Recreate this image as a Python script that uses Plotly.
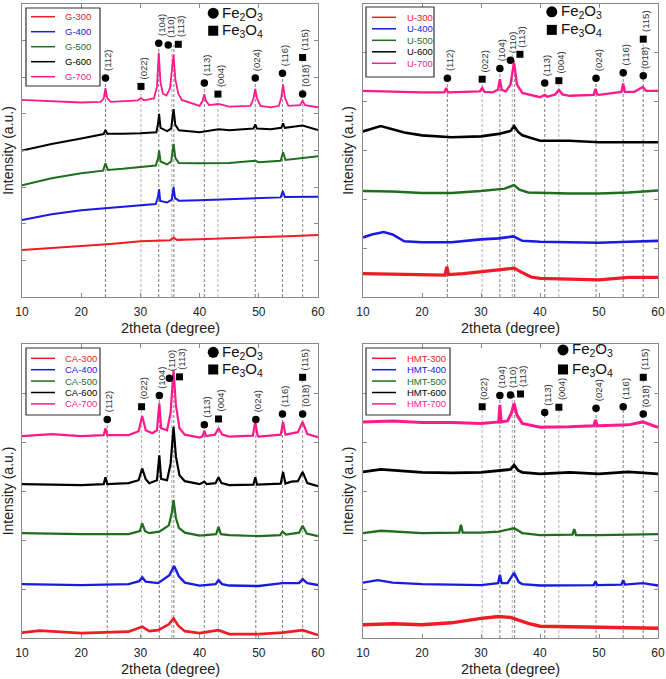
import plotly.graph_objects as go

# ---------------- data (2theta in degree, intensity in a.u. offset units) ----------------
G300 = [(10,1.28),(15,1.33),(20,1.38),(25,1.45),(30,1.52),(35,1.55),(35.6,1.62),(36.2,1.56),(40,1.58),(45,1.60),(50,1.63),(55,1.66),(60,1.69)]
G400 = [(10,2.10),(15,2.26),(20,2.37),(25,2.44),(30,2.50),(32.6,2.54),(33.0,2.75),(33.15,2.94),(33.35,2.62),(34.5,2.58),(35.3,2.66),(35.6,3.00),(35.85,2.70),(36.5,2.63),(40,2.64),(45,2.67),(50,2.69),(53.7,2.72),(54.05,2.89),(54.4,2.73),(60,2.74)]
G500 = [(10,3.05),(15,3.24),(20,3.38),(23.7,3.45),(24.1,3.65),(24.5,3.47),(27,3.50),(30,3.55),(32.6,3.59),(33.0,3.80),(33.15,4.00),(33.4,3.70),(34.5,3.62),(35.2,3.70),(35.6,4.18),(35.9,3.80),(36.5,3.66),(40,3.65),(45,3.66),(49.4,3.72),(50,3.68),(53.7,3.72),(54.1,3.95),(54.5,3.74),(57.4,3.80),(60,3.84)]
G600 = [(10,4.00),(15,4.18),(20,4.33),(23.8,4.45),(24.1,4.56),(24.4,4.46),(27,4.46),(30,4.47),(32.7,4.50),(33.0,4.75),(33.15,5.00),(33.4,4.62),(34.5,4.53),(35.2,4.60),(35.6,5.13),(35.9,4.70),(36.5,4.55),(40,4.50),(43.2,4.58),(45,4.55),(49.1,4.60),(49.4,4.71),(49.7,4.60),(52,4.58),(53.8,4.62),(54.1,4.74),(54.4,4.62),(57.4,4.68),(60,4.56)]
G700 = [(10,5.38),(15,5.34),(20,5.31),(23.3,5.33),(23.8,5.42),(24.1,5.70),(24.4,5.43),(25,5.33),(29.6,5.37),(30.1,5.43),(30.6,5.37),(32.3,5.42),(32.8,5.75),(33.1,6.67),(33.4,5.85),(33.8,5.55),(34.4,5.50),(35.0,5.70),(35.3,6.20),(35.6,6.61),(35.9,5.95),(36.4,5.55),(37,5.38),(40,5.22),(40.5,5.35),(40.8,5.54),(41.1,5.35),(41.6,5.24),(43.2,5.27),(45,5.20),(48.6,5.22),(49.1,5.42),(49.4,5.68),(49.7,5.42),(50.3,5.22),(52,5.18),(53.4,5.22),(53.8,5.45),(54.1,5.80),(54.4,5.45),(55,5.22),(57.0,5.24),(57.4,5.36),(57.8,5.24),(60,5.18)]

U300 = [(10,0.48),(15,0.47),(20,0.45),(23.9,0.45),(24.2,0.62),(24.5,0.46),(27,0.48),(30,0.52),(33,0.55),(35.6,0.59),(37,0.50),(38.5,0.41),(40,0.38),(45,0.37),(50,0.35),(55,0.40),(60,0.40)]
U400 = [(10,1.22),(11.5,1.28),(13.5,1.33),(15,1.28),(17,1.14),(20,1.12),(25,1.12),(30,1.18),(33,1.20),(35.5,1.24),(37,1.15),(40,1.13),(45,1.12),(50,1.11),(55,1.13),(60,1.15)]
U500 = [(10,2.17),(15,2.16),(20,2.13),(25,2.13),(30,2.17),(34,2.22),(35.6,2.29),(36.5,2.20),(38,2.14),(40,2.13),(45,2.12),(50,2.12),(55,2.14),(60,2.18)]
U600 = [(10,3.39),(13,3.50),(17,3.37),(20,3.31),(25,3.27),(30,3.29),(33,3.34),(35.0,3.40),(35.6,3.50),(36.3,3.38),(37,3.31),(40,3.20),(45,3.20),(50,3.17),(55,3.17),(60,3.17)]
U700 = [(10,4.22),(15,4.20),(20,4.19),(23.8,4.19),(24.1,4.28),(24.4,4.19),(29.8,4.21),(30.2,4.28),(30.6,4.20),(32,4.19),(32.9,4.25),(33.2,4.46),(33.5,4.24),(34.2,4.21),(35.0,4.35),(35.6,4.80),(36.1,4.35),(37,4.18),(40,4.09),(40.8,4.14),(41.2,4.10),(42.6,4.15),(43.2,4.24),(43.8,4.15),(45,4.12),(49.1,4.14),(49.4,4.26),(49.7,4.15),(50,4.14),(53.8,4.20),(54.1,4.37),(54.4,4.20),(56,4.20),(57.4,4.30),(58,4.22),(60,4.22)]

CA300 = [(10,0.11),(13,0.15),(20,0.10),(28,0.13),(30.3,0.23),(31.5,0.14),(33,0.16),(34.8,0.28),(35.6,0.40),(36.4,0.25),(37.5,0.14),(40,0.10),(43.2,0.16),(45,0.08),(50,0.08),(54,0.11),(57.4,0.16),(60,0.06)]
CA400 = [(10,1.10),(20,1.08),(28,1.10),(29.8,1.16),(30.3,1.24),(30.9,1.15),(33,1.12),(34.9,1.28),(35.7,1.47),(36.5,1.26),(37.5,1.13),(40,1.07),(42.7,1.10),(43.2,1.18),(43.8,1.10),(45,1.07),(50,1.06),(54,1.12),(56.8,1.12),(57.4,1.20),(58.2,1.12),(60,1.08)]
CA500 = [(10,2.14),(20,2.12),(28,2.12),(29.9,2.18),(30.3,2.34),(30.8,2.18),(31.5,2.14),(33.2,2.17),(34.8,2.30),(35.3,2.55),(35.6,2.82),(36.0,2.45),(36.5,2.25),(37.5,2.15),(40,2.09),(42.8,2.12),(43.2,2.27),(43.6,2.12),(45,2.10),(50,2.08),(53.6,2.10),(54,2.17),(54.6,2.11),(56.8,2.15),(57.4,2.29),(58.1,2.13),(60,2.08)]
CA600 = [(10,3.14),(20,3.12),(23.8,3.14),(24.1,3.28),(24.4,3.14),(28,3.16),(29.7,3.22),(30.3,3.46),(30.9,3.24),(31.5,3.16),(32.8,3.22),(33.2,3.73),(33.5,3.25),(34.5,3.22),(35.1,3.55),(35.6,4.31),(36.0,3.70),(36.6,3.32),(37.5,3.20),(40,3.14),(40.8,3.19),(41.2,3.14),(42.7,3.16),(43.2,3.28),(43.7,3.16),(45,3.12),(49.1,3.13),(49.4,3.28),(49.7,3.13),(53.7,3.15),(54.1,3.39),(54.5,3.15),(55.5,3.19),(56.6,3.20),(57.4,3.39),(58.2,3.16),(60,3.10)]
CA700 = [(10,4.12),(15,4.16),(20,4.12),(23.8,4.14),(24.1,4.28),(24.4,4.14),(28,4.14),(29.7,4.22),(30.3,4.53),(30.9,4.24),(32,4.18),(32.8,4.24),(33.2,4.79),(33.5,4.28),(34.5,4.24),(35.1,4.60),(35.6,5.47),(36.0,4.75),(36.6,4.28),(37.5,4.15),(40,4.09),(40.5,4.12),(40.8,4.23),(41.1,4.12),(42.6,4.15),(43.2,4.28),(43.8,4.15),(45,4.11),(49.0,4.13),(49.4,4.41),(49.8,4.13),(50,4.11),(53.7,4.15),(54.1,4.41),(54.5,4.15),(56.6,4.20),(57.4,4.41),(58.2,4.16),(60,4.10)]

HMT300 = [(10,0.27),(15,0.29),(20,0.27),(25,0.31),(30,0.40),(33,0.44),(35,0.42),(36.5,0.36),(38,0.30),(40,0.24),(45,0.23),(50,0.23),(55,0.22),(60,0.20)]
HMT400 = [(10,1.13),(12.5,1.18),(15,1.13),(20,1.10),(30,1.08),(32.9,1.12),(33.2,1.29),(33.5,1.12),(34.5,1.12),(35.6,1.33),(36.4,1.14),(37,1.10),(40,1.07),(45,1.07),(49.1,1.08),(49.4,1.15),(49.7,1.08),(53.8,1.09),(54.1,1.18),(54.4,1.09),(57.4,1.12),(60,1.07)]
HMT500 = [(10,2.14),(13,2.19),(20,2.14),(26.3,2.15),(26.6,2.31),(26.9,2.15),(30,2.15),(33,2.17),(35.6,2.24),(37,2.14),(40,2.10),(45.5,2.11),(45.8,2.22),(46.1,2.10),(50,2.10),(55,2.11),(60,2.12)]
HMT600 = [(10,3.39),(13,3.44),(20,3.38),(25,3.37),(30,3.38),(33,3.41),(35.0,3.44),(35.6,3.53),(36.3,3.42),(37,3.38),(40,3.35),(45,3.38),(50,3.35),(55,3.39),(60,3.35)]
HMT700 = [(10,4.41),(15,4.43),(20,4.40),(25,4.40),(30,4.38),(33.0,4.41),(33.2,4.76),(33.4,4.41),(34.5,4.43),(35.2,4.60),(35.6,4.79),(36.1,4.55),(37,4.38),(40,4.30),(45,4.31),(49.1,4.33),(49.4,4.45),(49.7,4.33),(50,4.33),(55,4.35),(57.4,4.41),(60,4.30)]

TEMPERATURES = ["300", "400", "500", "600", "700"]
X_TICKS = [10, 20, 30, 40, 50, 60]

# peak reference: (hkl, phase, line position, marker position, marker height)
G_PEAKS = [("(112)","Fe2O3",24.1,24.1,5.98),("(022)","Fe3O4",30.1,30.1,5.75),("(104)","Fe2O3",33.1,33.1,6.93),
           ("(110)","Fe2O3",35.65,34.7,6.88),("(113)","Fe3O4",35.3,36.4,6.90),("(113)","Fe2O3",40.8,40.8,5.84),
           ("(004)","Fe3O4",43.1,43.1,5.54),("(024)","Fe2O3",49.4,49.4,5.98),("(116)","Fe2O3",54.0,54.0,6.11),
           ("(018)","Fe2O3",57.4,57.4,5.54),("(115)","Fe3O4",57.4,57.4,6.54)]
U_PEAKS = [("(112)","Fe2O3",24.3,24.3,4.48),("(022)","Fe3O4",30.2,30.2,4.46),("(104)","Fe2O3",33.2,33.2,4.68),
           ("(110)","Fe2O3",35.7,35.0,4.85),("(113)","Fe3O4",35.3,36.6,4.97),("(113)","Fe2O3",40.8,40.8,4.38),
           ("(004)","Fe3O4",43.2,43.2,4.43),("(024)","Fe2O3",49.5,49.5,4.48),("(116)","Fe2O3",54.1,54.1,4.59),
           ("(018)","Fe2O3",57.5,57.5,4.53),("(115)","Fe3O4",57.5,57.5,5.28)]
CA_PEAKS = [("(112)","Fe2O3",24.4,24.4,4.46),("(022)","Fe3O4",30.2,30.2,4.72),("(104)","Fe2O3",33.2,33.2,4.95),
            ("(110)","Fe2O3",35.65,34.9,5.30),("(113)","Fe3O4",35.3,36.6,5.33),("(113)","Fe2O3",40.8,40.8,4.35),
            ("(004)","Fe3O4",43.2,43.2,4.47),("(024)","Fe2O3",49.5,49.5,4.46),("(116)","Fe2O3",54.0,54.0,4.57),
            ("(018)","Fe2O3",57.4,57.4,4.57),("(115)","Fe3O4",57.4,57.4,5.32)]
HMT_PEAKS = [("(022)","Fe3O4",30.2,30.2,4.72),("(104)","Fe2O3",33.2,33.2,4.95),
             ("(110)","Fe2O3",35.7,35.0,4.96),("(113)","Fe3O4",35.3,36.7,4.98),("(113)","Fe2O3",40.8,40.8,4.60),
             ("(004)","Fe3O4",43.2,43.2,4.71),("(024)","Fe2O3",49.5,49.5,4.69),("(116)","Fe2O3",54.1,54.1,4.72),
             ("(018)","Fe2O3",57.5,57.5,4.57),("(115)","Fe3O4",57.5,57.5,5.32)]

# ---------------- layout / style ----------------
W, H = 666, 679
COLORS = ["#ee1c24", "#1a1ae0", "#1e6e1e", "#000000", "#ff1a8c"]
FONT = "Liberation Sans, Arial, sans-serif"
AXC = "#8a8a8a"

panels = [
    dict(prefix="G", series=[G300, G400, G500, G600, G700], ymax=8, peaks=G_PEAKS,
         widths=[2.0, 2.0, 2.0, 2.0, 1.8],
         px=(22, 318), py=(4, 297), key=(42.3, 7.75, 7.27),
         leg=dict(left=26, top=8, w=74, h=78, first=8.7, step=15, l0=5, l1=29, tx=37)),
    dict(prefix="U", series=[U300, U400, U500, U600, U700], ymax=6, peaks=U_PEAKS,
         widths=[3.2, 2.6, 2.4, 2.6, 2.4],
         px=(363, 658), py=(4, 297), key=(42.0, 5.84, 5.47),
         leg=dict(left=366, top=7, w=68, h=70, first=10.3, step=11.5, l0=6, l1=30, tx=39)),
    dict(prefix="CA", series=[CA300, CA400, CA500, CA600, CA700], ymax=6, peaks=CA_PEAKS,
         widths=[2.6, 2.4, 2.2, 2.2, 2.2],
         px=(22, 318), py=(344, 638), key=(42.3, 5.83, 5.48),
         leg=dict(left=26, top=348, w=74, h=67, first=10.3, step=11.4, l0=5, l1=29, tx=37)),
    dict(prefix="HMT", series=[HMT300, HMT400, HMT500, HMT600, HMT700], ymax=6, peaks=HMT_PEAKS,
         widths=[3.4, 2.4, 2.4, 2.8, 3.0],
         px=(363, 658), py=(344, 638), key=(43.9, 5.88, 5.48),
         leg=dict(left=366, top=348, w=84, h=67, first=10.3, step=11.4, l0=6, l1=30, tx=39)),
]

fig = go.Figure()
annotations = []
shapes = []
layout = dict(width=W, height=H, margin=dict(l=0, r=0, t=0, b=0), paper_bgcolor="white",
              plot_bgcolor="white", font=dict(family=FONT, color="#222"), showlegend=False)

for i, p in enumerate(panels):
    n = "" if i == 0 else str(i + 1)
    xa, ya = "x" + n, "y" + n
    # dashed reference lines
    for hkl, phase, lx, mx, my in p["peaks"]:
        col = "#6e6e6e" if phase == "Fe2O3" else "#a8a8a8"
        fig.add_trace(go.Scatter(x=[lx, lx], y=[0, my], mode="lines", xaxis=xa, yaxis=ya,
                                 line=dict(color=col, width=0.9, dash="3px,2px"),
                                 hoverinfo="skip"))
    # patterns
    for s, (ser, t) in enumerate(zip(p["series"], TEMPERATURES)):
        fig.add_trace(go.Scatter(x=[a for a, b in ser], y=[b for a, b in ser], mode="lines",
                                 xaxis=xa, yaxis=ya, name=f'{p["prefix"]}-{t}',
                                 line=dict(color=COLORS[s], width=p["widths"][s])))
    # phase markers + hkl labels
    for phase, sym in (("Fe2O3", "circle"), ("Fe3O4", "square")):
        pk = [q for q in p["peaks"] if q[1] == phase]
        fig.add_trace(go.Scatter(x=[q[3] for q in pk], y=[q[4] for q in pk], mode="markers",
                                 xaxis=xa, yaxis=ya, hoverinfo="skip",
                                 marker=dict(symbol=sym, color="black",
                                             size=7.5 if sym == "circle" else 7)))
    for hkl, phase, lx, mx, my in p["peaks"]:
        annotations.append(dict(x=mx, y=my, xref=xa, yref=ya, text=hkl, textangle=-90,
                                showarrow=False, xanchor="center", yanchor="bottom",
                                xshift=2, yshift=5, font=dict(size=9.5, color="#333")))
    # phase key
    kx, ky1, ky2 = p["key"]
    fig.add_trace(go.Scatter(x=[kx], y=[ky1], mode="markers", xaxis=xa, yaxis=ya,
                             marker=dict(symbol="circle", color="black", size=11), hoverinfo="skip"))
    fig.add_trace(go.Scatter(x=[kx], y=[ky2], mode="markers", xaxis=xa, yaxis=ya,
                             marker=dict(symbol="square", color="black", size=10), hoverinfo="skip"))
    for ky, txt in ((ky1, "Fe<sub>2</sub>O<sub>3</sub>"), (ky2, "Fe<sub>3</sub>O<sub>4</sub>")):
        annotations.append(dict(x=kx, y=ky, xref=xa, yref=ya, text=txt,
                                showarrow=False, xanchor="left", yanchor="middle", xshift=7,
                                font=dict(size=15, color="#111")))

    # legend box (series names in their colours)
    lg = p["leg"]
    shapes.append(dict(type="rect", xref="paper", yref="paper",
                       x0=lg["left"] / W, x1=(lg["left"] + lg["w"]) / W,
                       y0=1 - (lg["top"] + lg["h"]) / H, y1=1 - lg["top"] / H,
                       line=dict(color="#333", width=1.2), fillcolor="white", layer="above"))
    for s, t in enumerate(TEMPERATURES):
        ey = 1 - (lg["top"] + lg["first"] + s * lg["step"]) / H
        shapes.append(dict(type="line", xref="paper", yref="paper",
                           x0=(lg["left"] + lg["l0"]) / W, x1=(lg["left"] + lg["l1"]) / W,
                           y0=ey, y1=ey, line=dict(color=COLORS[s], width=1.5), layer="above"))
        annotations.append(dict(x=(lg["left"] + lg["tx"]) / W, y=ey, xref="paper", yref="paper",
                                text=f'{p["prefix"]}-{t}', showarrow=False, xanchor="left",
                                yanchor="middle", font=dict(size=9.5, color=COLORS[s])))

    x0, x1 = p["px"]
    y0, y1 = p["py"]
    # x-axis title below the tick labels
    annotations.append(dict(x=(x0 + x1) / 2 / W, y=1 - (y1 + 31) / H, xref="paper", yref="paper",
                            text="2theta (degree)", showarrow=False, xanchor="center",
                            yanchor="middle", font=dict(size=14.5, color="#222")))
    layout["xaxis" + n] = dict(domain=[x0 / W, x1 / W], anchor=ya, range=[10, 60],
                               tickvals=X_TICKS, ticktext=[str(v) for v in X_TICKS],
                               ticks="inside", ticklen=4, tickcolor=AXC, showline=True,
                               linecolor=AXC, linewidth=1, mirror="ticks", showgrid=False,
                               zeroline=False, tickfont=dict(size=12, color="#222"),
                               ticklabelstandoff=4, automargin=False)
    layout["yaxis" + n] = dict(domain=[1 - y1 / H, 1 - y0 / H], anchor=xa, range=[0, p["ymax"]],
                               dtick=1, ticks="inside", ticklen=4, tickcolor=AXC, showline=True,
                               linecolor=AXC, linewidth=1, mirror="ticks", showgrid=False,
                               zeroline=False, showticklabels=False,
                               title=dict(text="Intensity (a.u.)", font=dict(size=14, color="#222"),
                                          standoff=5), automargin=False)

layout["annotations"] = annotations
layout["shapes"] = shapes
fig.update_layout(**layout)
fig.write_html("out.html")
